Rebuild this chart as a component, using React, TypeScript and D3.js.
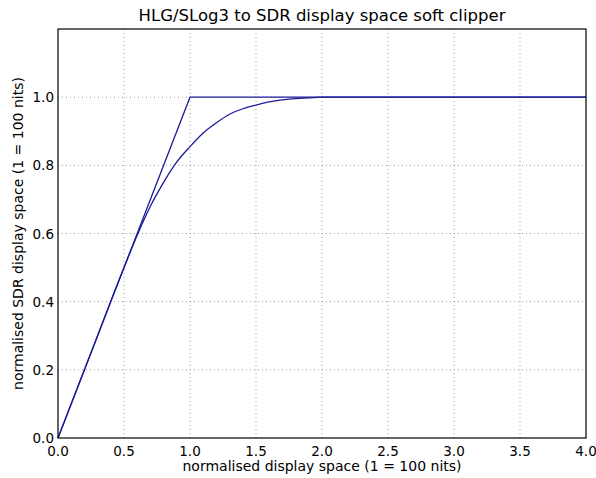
import * as d3 from 'd3'
import React from 'react'

// hard clip: y = min(x, 1)
const hardX = [0, 1.0, 4.0]
const hardY = [0, 1.0, 1.0]

// soft clipper curve
const softX = [0, 0.25, 0.5, 0.6, 0.7, 0.8, 0.9, 1.0, 1.1, 1.2, 1.3, 1.4, 1.5, 1.6, 1.7, 1.8, 1.9, 2.0, 4.0]
const softY = [0, 0.25, 0.5, 0.595, 0.68, 0.75, 0.81, 0.855, 0.895, 0.925, 0.95, 0.966, 0.977, 0.986, 0.992, 0.996, 0.998, 1.0, 1.0]

const xTicks = [0, 0.5, 1.0, 1.5, 2.0, 2.5, 3.0, 3.5, 4.0]
const yTicks = [0, 0.2, 0.4, 0.6, 0.8, 1.0]

const W = 596, H = 478
const margin = { left: 58, right: 10, top: 29, bottom: 40 }
const font = 'DejaVu Sans, sans-serif'
const lineColor = '#1c1c99'

export default function App() {
  const ref = React.useRef<SVGSVGElement>(null)

  React.useEffect(() => {
    const svg = d3.select(ref.current)
    svg.selectAll('*').remove()

    const x = d3.scaleLinear().domain([0, 4]).range([margin.left, W - margin.right])
    const y = d3.scaleLinear().domain([0, 1.2]).range([H - margin.bottom, margin.top])

    svg.append('rect').attr('width', W).attr('height', H).attr('fill', '#fff')

    // grid
    const grid = svg.append('g').attr('stroke', '#999').attr('stroke-width', 1).attr('stroke-dasharray', '1,3')
    xTicks.slice(1, -1).forEach(t => {
      grid.append('line').attr('x1', x(t)).attr('x2', x(t)).attr('y1', y(0)).attr('y2', y(1.2))
    })
    yTicks.slice(1).forEach(t => {
      grid.append('line').attr('x1', x(0)).attr('x2', x(4)).attr('y1', y(t)).attr('y2', y(t))
    })

    const line = d3.line<[number, number]>().x(d => x(d[0])).y(d => y(d[1])).curve(d3.curveMonotoneX)

    svg.append('path')
      .datum(softX.map((v, i) => [v, softY[i]] as [number, number]))
      .attr('d', line).attr('fill', 'none').attr('stroke', lineColor).attr('stroke-width', 1.3)
    svg.append('path')
      .datum(hardX.map((v, i) => [v, hardY[i]] as [number, number]))
      .attr('d', line.curve(d3.curveLinear)).attr('fill', 'none').attr('stroke', lineColor).attr('stroke-width', 1.3)

    // frame
    svg.append('rect')
      .attr('x', x(0)).attr('y', y(1.2)).attr('width', x(4) - x(0)).attr('height', y(0) - y(1.2))
      .attr('fill', 'none').attr('stroke', '#000').attr('stroke-width', 1.2)

    // tick labels
    svg.append('g').selectAll('text').data(xTicks).enter().append('text')
      .attr('x', d => x(d)).attr('y', y(0) + 18)
      .attr('text-anchor', 'middle').attr('font-family', font).attr('font-size', 13.5)
      .text(d => d.toFixed(1))
    svg.append('g').selectAll('text').data(yTicks).enter().append('text')
      .attr('x', x(0) - 4).attr('y', d => y(d) + 5)
      .attr('text-anchor', 'end').attr('font-family', font).attr('font-size', 13.5)
      .text(d => d.toFixed(1))

    // labels
    svg.append('text')
      .attr('x', (x(0) + x(4)) / 2).attr('y', 21)
      .attr('text-anchor', 'middle').attr('font-family', font).attr('font-size', 16.5)
      .text('HLG/SLog3 to SDR display space soft clipper')
    svg.append('text')
      .attr('x', (x(0) + x(4)) / 2).attr('y', 471)
      .attr('text-anchor', 'middle').attr('font-family', font).attr('font-size', 14)
      .text('normalised display space (1 = 100 nits)')
    svg.append('text')
      .attr('transform', `translate(23,${(y(0) + y(1.2)) / 2}) rotate(-90)`)
      .attr('text-anchor', 'middle').attr('font-family', font).attr('font-size', 14)
      .text('normalised SDR display space (1 = 100 nits)')
  }, [])

  return (
    <svg ref={ref} width={W} height={H} style={{ position: 'absolute', left: 0, top: 0 }} />
  )
}
